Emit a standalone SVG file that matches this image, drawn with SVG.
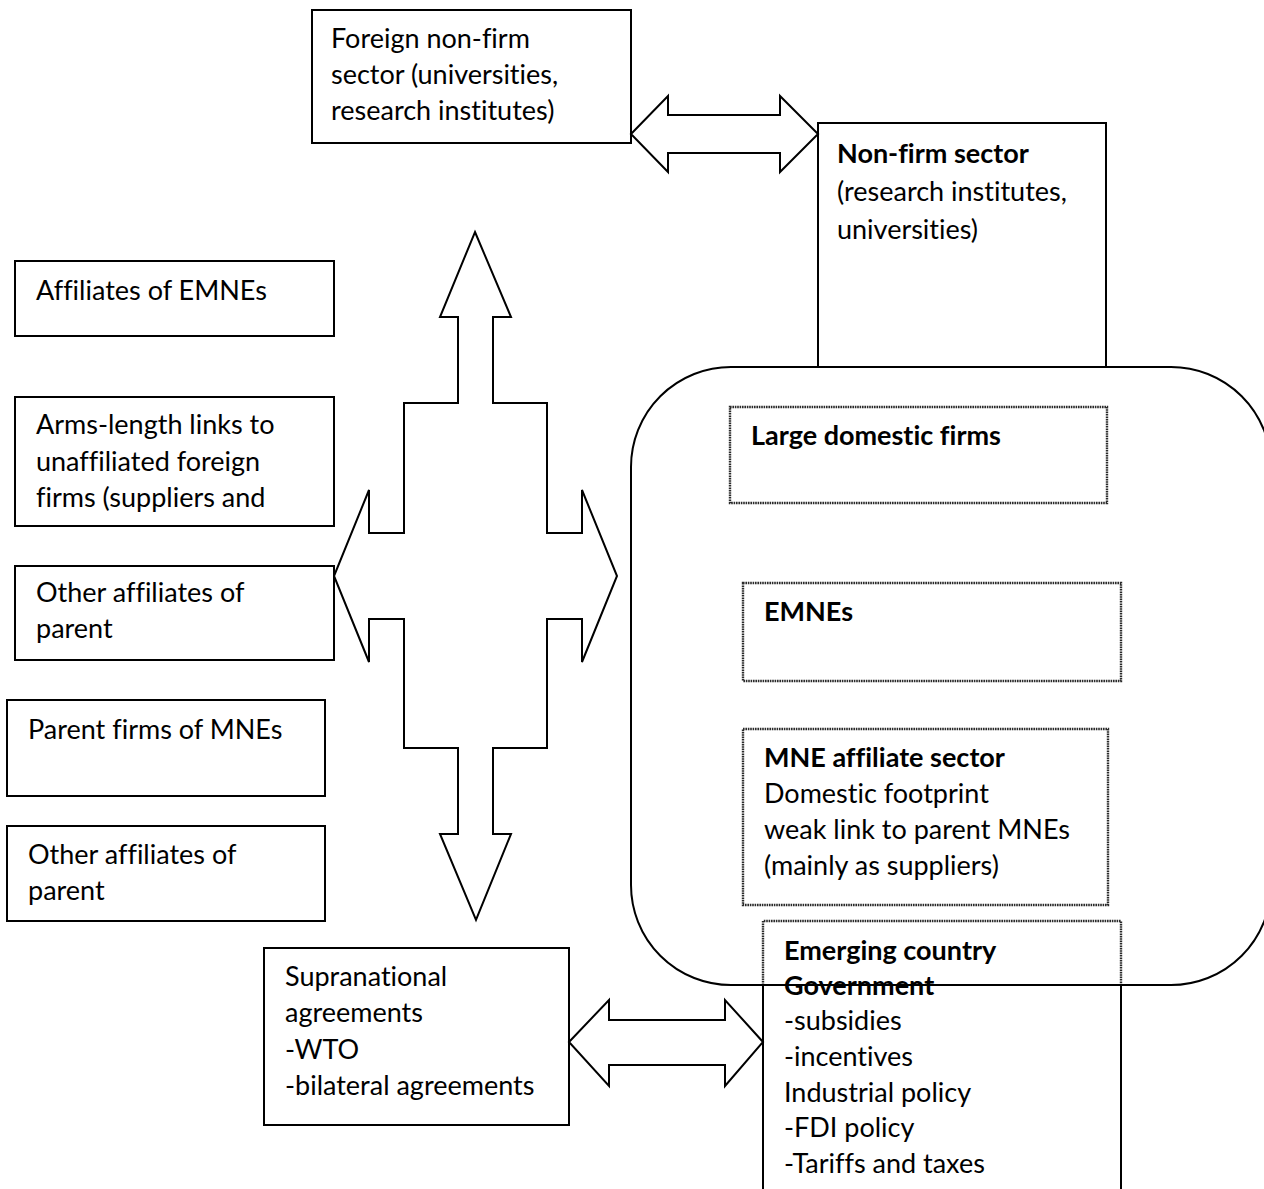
<svg xmlns="http://www.w3.org/2000/svg" width="1264" height="1189" viewBox="0 0 1264 1189">
<style>
.box{fill:#fff;stroke:#000;stroke-width:2}
.dbox{fill:#fff;stroke:#2a2a2a;stroke-width:2.4;stroke-dasharray:1.6 0.8}
.arr{fill:#fff;stroke:#000;stroke-width:2;stroke-linejoin:miter}
.t{font-family:Lato,"Liberation Sans",sans-serif;font-size:27px;fill:#000;font-variant-ligatures:none}
.b{font-weight:bold}
</style>
<rect width="1264" height="1189" fill="#fff"/>
<g id="foreign-nonfirm">
<rect class="box" x="312" y="10" width="319" height="133"/>
<text class="t" x="331" y="48">Foreign non-firm</text>
<text class="t" x="331" y="84">sector (universities,</text>
<text class="t" x="331" y="120">research institutes)</text>
</g>
<g id="nonfirm">
<rect class="box" x="818" y="123" width="288" height="244"/>
<text class="t b" x="837" y="163">Non-firm sector</text>
<text class="t" x="837" y="201">(research institutes,</text>
<text class="t" x="837" y="239">universities)</text>
</g>
<g id="affiliates-emnes">
<rect class="box" x="15" y="261" width="319" height="75"/>
<text class="t" x="36" y="300">Affiliates of EMNEs</text>
</g>
<g id="arms-length">
<rect class="box" x="15" y="397" width="319" height="129"/>
<text class="t" x="36" y="434">Arms-length links to</text>
<text class="t" x="36" y="471">unaffiliated foreign</text>
<text class="t" x="36" y="507">firms (suppliers and</text>
</g>
<g id="other-affiliates-1">
<rect class="box" x="15" y="566" width="319" height="94"/>
<text class="t" x="36" y="602">Other affiliates of</text>
<text class="t" x="36" y="638">parent</text>
</g>
<g id="parent-firms">
<rect class="box" x="7" y="700" width="318" height="96"/>
<text class="t" x="28" y="739">Parent firms of MNEs</text>
</g>
<g id="other-affiliates-2">
<rect class="box" x="7" y="826" width="318" height="95"/>
<text class="t" x="28" y="864">Other affiliates of</text>
<text class="t" x="28" y="900">parent</text>
</g>
<g id="supranational">
<rect class="box" x="264" y="948" width="305" height="177"/>
<text class="t" x="285" y="986">Supranational</text>
<text class="t" x="285" y="1022">agreements</text>
<text class="t" x="285" y="1059">-WTO</text>
<text class="t" x="285" y="1095">-bilateral agreements</text>
</g>
<g id="large-domestic">
<rect class="dbox" x="730" y="407" width="377" height="96"/>
<text class="t b" x="751" y="445">Large domestic firms</text>
</g>
<g id="emnes">
<rect class="dbox" x="743" y="583" width="378" height="98"/>
<text class="t b" x="764" y="621">EMNEs</text>
</g>
<g id="mne-affiliate">
<rect class="dbox" x="743" y="729" width="365" height="176"/>
<text class="t b" x="764" y="767">MNE affiliate sector</text>
<text class="t" x="764" y="803">Domestic footprint</text>
<text class="t" x="764" y="839">weak link to parent MNEs</text>
<text class="t" x="764" y="875">(mainly as suppliers)</text>
</g>
<g id="government">
<rect x="763" y="921" width="358" height="280" fill="#fff" stroke="none"/>
<path d="M763 985 V921 H1121 V985" fill="none" stroke="#2a2a2a" stroke-width="2.4" stroke-dasharray="1.6 0.8"/>
<path d="M763 985 V1195 M1121 985 V1195" fill="none" stroke="#000" stroke-width="2"/>
<text class="t b" x="784" y="960">Emerging country</text>
<text class="t b" x="784" y="995">Government</text>
<text class="t" x="784" y="1030">-subsidies</text>
<text class="t" x="784" y="1066">-incentives</text>
<text class="t" x="784" y="1102">Industrial policy</text>
<text class="t" x="784" y="1137">-FDI policy</text>
<text class="t" x="784" y="1173">-Tariffs and taxes</text>
</g>
<g id="domestic-economy">
<rect x="631" y="367" width="640" height="618" rx="100" ry="100" fill="none" stroke="#000" stroke-width="2"/>
</g>
<g id="connectors">
<polygon class="arr" points="631,134 668,96 668,115 780,115 780,96 818,134 780,172 780,153 668,153 668,172"/>
<polygon class="arr" points="569,1042 609,1000 609,1020 725,1020 725,1000 763,1042 725,1086 725,1065 609,1065 609,1086"/>
<polygon class="arr" points="475,232 511,317 493,317 493,403 547,403 547,533 582,533 582,490 617,576 582,662 582,619 547,619 547,748 493,748 493,834 511,834 476,920 440,834 458,834 458,748 404,748 404,619 369,619 369,662 334,576 369,490 369,533 404,533 404,403 458,403 458,317 440,317"/>
</g>
</svg>
